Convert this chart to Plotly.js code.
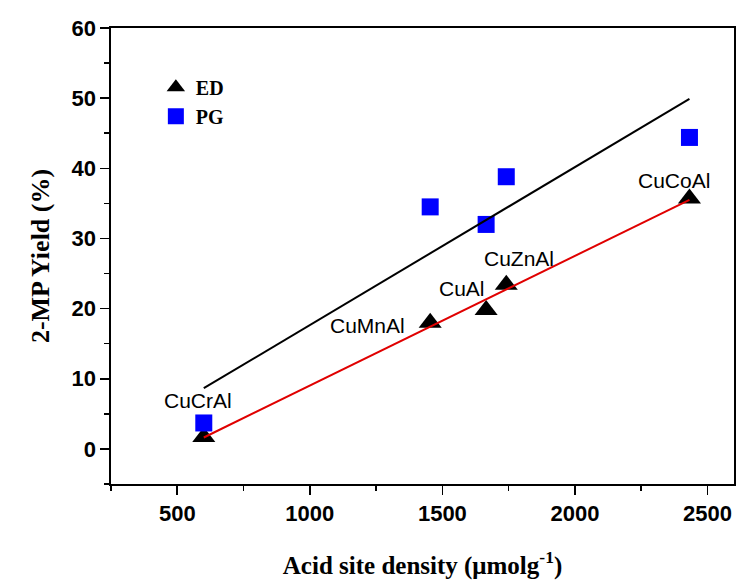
<!DOCTYPE html>
<html>
<head>
<meta charset="utf-8">
<script src="https://cdn.plot.ly/plotly-3.0.1.min.js"></script>
<style>html,body{margin:0;padding:0;background:#fff;}#chart{width:745px;height:583px;}</style>
</head>
<body>
<div id="chart"></div>
<script>
// ---- data ----
const catalysts   = ['CuCrAl', 'CuMnAl', 'CuAl', 'CuZnAl', 'CuCoAl'];
const acidDensity = [600, 1454, 1665, 1741, 2432];   // µmol g-1
const yieldED     = [1.7, 18.0, 19.8, 23.4, 35.7];   // %
const yieldPG     = [3.7, 34.5, 32.0, 38.8, 44.4];   // %

// least-squares linear fit
function linfit(x, y) {
  const n = x.length;
  const mx = x.reduce((a, b) => a + b, 0) / n;
  const my = y.reduce((a, b) => a + b, 0) / n;
  let sxy = 0, sxx = 0;
  for (let i = 0; i < n; i++) { sxy += (x[i] - mx) * (y[i] - my); sxx += (x[i] - mx) ** 2; }
  const m = sxy / sxx, b = my - m * mx;
  const xs = [Math.min(...x), Math.max(...x)];
  return { x: xs, y: xs.map(v => m * v + b) };
}
const fitED = linfit(acidDensity, yieldED);
const fitPG = linfit(acidDensity, yieldPG);

const traces = [
  { x: acidDensity, y: yieldED, name: 'ED', mode: 'markers', type: 'scatter',
    marker: { symbol: 'triangle-up', size: 20, color: '#000000' } },
  { x: acidDensity, y: yieldPG, name: 'PG', mode: 'markers', type: 'scatter',
    marker: { symbol: 'square', size: 17, color: '#0000ff' } },
  { x: fitPG.x, y: fitPG.y, mode: 'lines', type: 'scatter', showlegend: false, hoverinfo: 'skip',
    line: { color: '#000000', width: 2 } },
  { x: fitED.x, y: fitED.y, mode: 'lines', type: 'scatter', showlegend: false, hoverinfo: 'skip',
    line: { color: '#e00000', width: 2 } }
];

// label offsets (px) relative to the ED marker
const labelShift = [[-6, -37], [-63, 3], [-24, -22], [13, -26], [-15, -18]];
const annotations = catalysts.map((c, i) => ({
  x: acidDensity[i], y: yieldED[i], xref: 'x', yref: 'y', text: c, showarrow: false,
  xanchor: 'center', yanchor: 'middle', xshift: labelShift[i][0], yshift: -labelShift[i][1],
  font: { family: 'Liberation Sans, Arial, sans-serif', size: 21, color: '#000' }
}));

const axisCommon = {
  showgrid: false, zeroline: false, showline: true, linecolor: '#000', linewidth: 1.6,
  mirror: true, ticks: 'outside', ticklen: 9, tickwidth: 1.6, tickcolor: '#000',
  tickfont: { family: 'Liberation Sans, Arial, sans-serif', size: 22, color: '#000', weight: 'bold' },
  minor: { ticks: 'outside', ticklen: 5, tickwidth: 1.6, tickcolor: '#000' }
};

const layout = {
  width: 745, height: 583,
  margin: { l: 111, r: 11, t: 28, b: 99 },
  paper_bgcolor: '#ffffff', plot_bgcolor: '#ffffff',
  showlegend: true,
  legend: { x: 0.072, y: 0.913, xanchor: 'left', yanchor: 'top', bgcolor: 'rgba(0,0,0,0)',
    font: { family: 'Liberation Serif, Times New Roman, serif', size: 20, color: '#000', weight: 'bold' },
    tracegroupgap: 0, itemwidth: 30 },
  xaxis: Object.assign({}, axisCommon, {
    range: [250, 2600], tickvals: [500, 1000, 1500, 2000, 2500],
    minor: Object.assign({}, axisCommon.minor, { dtick: 250, tick0: 250 }),
    title: { text: 'Acid site density (μmolg<sup>-1</sup>)', standoff: 31,
      font: { family: 'Liberation Serif, Times New Roman, serif', size: 25, color: '#000', weight: 'bold' } }
  }),
  yaxis: Object.assign({}, axisCommon, {
    range: [-5, 60], tickvals: [0, 10, 20, 30, 40, 50, 60],
    minor: Object.assign({}, axisCommon.minor, { dtick: 5, tick0: -5 }),
    title: { text: '2-MP Yield (%)', standoff: 14,
      font: { family: 'Liberation Serif, Times New Roman, serif', size: 26, color: '#000', weight: 'bold' } }
  }),
  annotations: annotations
};

Plotly.newPlot('chart', traces, layout, { displayModeBar: false, staticPlot: true });
</script>
</body>
</html>
